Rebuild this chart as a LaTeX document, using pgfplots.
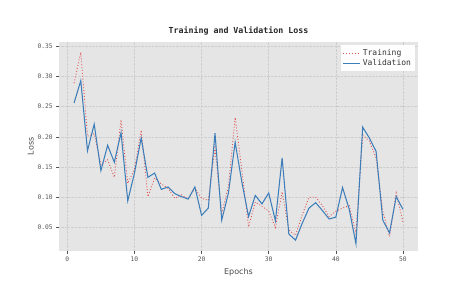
\documentclass[border=0pt]{standalone}
\usepackage{pgfplots}
\pgfplotsset{compat=1.18}
\usepackage{fontspec}
\setmainfont{DejaVu Sans Mono}
\newfontfamily\labelfont{DejaVu Sans}
\definecolor{bgc}{HTML}{E5E5E5}
\definecolor{gridc}{HTML}{CECECE}
\definecolor{trainc}{HTML}{E0504F}
\definecolor{valc}{HTML}{3D7EBA}
\definecolor{tickc}{HTML}{555555}
\begin{document}
\begin{tikzpicture}
\begin{axis}[
  scale only axis,
  width=358.4pt, height=208.7pt,
  xmin=-1.2, xmax=52.2,
  ymin=0.0115, ymax=0.357,
  axis background/.style={fill=bgc},
  axis line style={draw=none},
  xtick={0,10,20,30,40,50},
  ytick={0.05,0.10,0.15,0.20,0.25,0.30,0.35},
  tick align=outside,
  tick pos=left,
  major tick length=3pt,
  tick style={tickc, line width=0.5pt},
  grid=major,
  major grid style={gridc, densely dotted, line width=0.6pt},
  /pgf/number format/assume math mode=true,
  yticklabel style={/pgf/number format/.cd, fixed, fixed zerofill, precision=2},
  ticklabel style={font=\fontsize{6.3}{7}\selectfont, text=tickc},
  title={\bfseries Training and Validation Loss},
  title style={font=\fontsize{8.3}{10}\selectfont, text=black!85, yshift=-3pt},
  xlabel={\labelfont Epochs},
  ylabel={\labelfont Loss},
  label style={font=\fontsize{8}{9}\selectfont, text=black!70},
  xlabel style={yshift=0pt},
  ylabel style={yshift=-3pt},
  legend style={font=\fontsize{8}{9}\selectfont, fill=white!96!bgc, draw=none, text=black!80, row sep=-1.5pt, inner sep=2pt, at={(0.993,0.985)}, anchor=north east},
  legend cell align=left,
]
\addplot[trainc, dotted, line width=0.9pt] coordinates {
(1,0.289)(2,0.340)(3,0.201)(4,0.205)(5,0.154)(6,0.162)(7,0.133)(8,0.228)(9,0.123)(10,0.146)
(11,0.211)(12,0.101)(13,0.132)(14,0.122)(15,0.115)(16,0.098)(17,0.104)(18,0.097)(19,0.115)(20,0.098)
(21,0.095)(22,0.182)(23,0.073)(24,0.118)(25,0.232)(26,0.145)(27,0.051)(28,0.092)(29,0.085)(30,0.077)
(31,0.050)(32,0.109)(33,0.046)(34,0.037)(35,0.071)(36,0.100)(37,0.100)(38,0.086)(39,0.068)(40,0.077)
(41,0.082)(42,0.086)(43,0.040)(44,0.203)(45,0.193)(46,0.165)(47,0.077)(48,0.035)(49,0.107)(50,0.059)
};
\addlegendentry{Training}
\addplot[valc, solid, line width=1.05pt] coordinates {
(1,0.256)(2,0.293)(3,0.177)(4,0.221)(5,0.144)(6,0.186)(7,0.158)(8,0.207)(9,0.094)(10,0.140)
(11,0.198)(12,0.133)(13,0.140)(14,0.113)(15,0.117)(16,0.106)(17,0.101)(18,0.097)(19,0.117)(20,0.070)
(21,0.082)(22,0.206)(23,0.062)(24,0.107)(25,0.191)(26,0.125)(27,0.068)(28,0.103)(29,0.089)(30,0.107)
(31,0.061)(32,0.165)(33,0.039)(34,0.029)(35,0.057)(36,0.082)(37,0.091)(38,0.078)(39,0.064)(40,0.067)
(41,0.116)(42,0.080)(43,0.023)(44,0.216)(45,0.198)(46,0.176)(47,0.062)(48,0.041)(49,0.101)(50,0.080)
};
\addlegendentry{Validation}
\end{axis}
\path ([shift={(-59.3pt,-45.3pt)}]current axis.south west) rectangle ([shift={(39.3pt,42pt)}]current axis.north east);
\end{tikzpicture}
\end{document}
